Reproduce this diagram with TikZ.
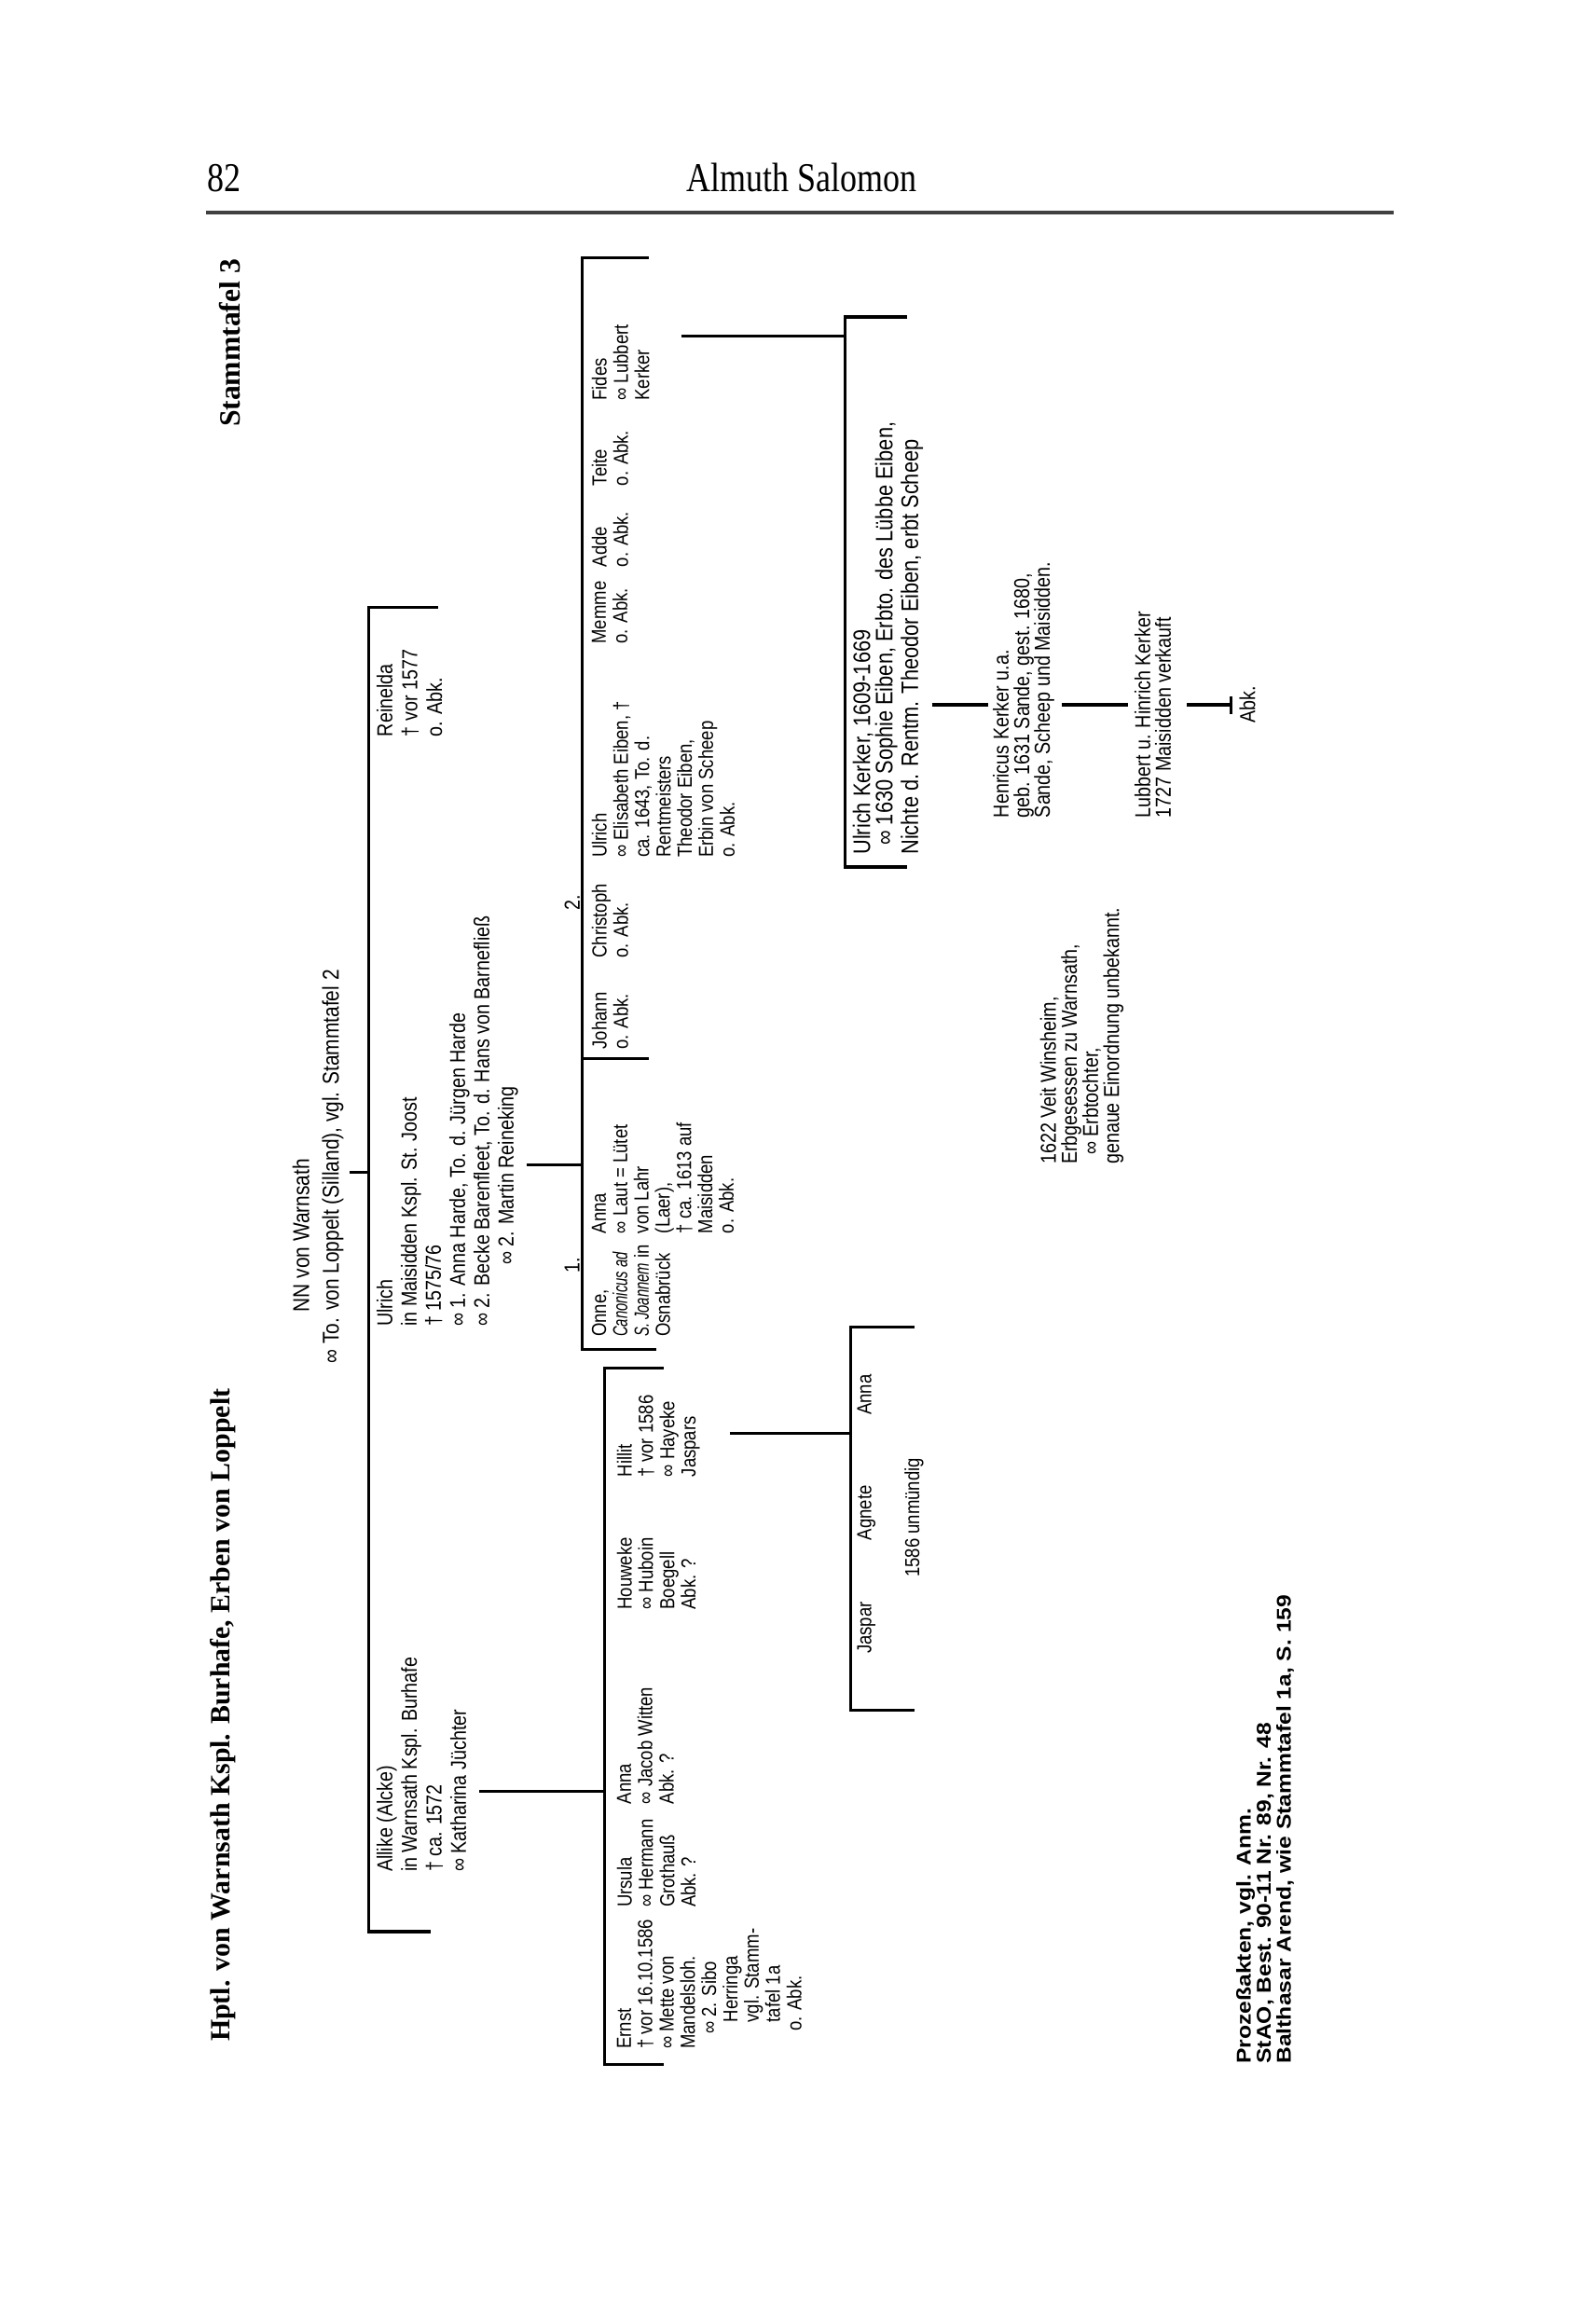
\documentclass[tikz,border=0pt]{standalone}
\usepackage{fontspec}
\setmainfont{Liberation Serif}
\newfontfamily\treefont[FakeStretch=0.85]{Liberation Sans}
\newfontfamily\srcfont[FakeStretch=1.15]{Liberation Sans}
\newfontfamily\headfont[FakeStretch=0.82]{Liberation Serif}
\newfontfamily\titlefont{Liberation Serif}
\newcommand\ind[1]{\hspace*{#1}}
\newcommand\nit[1]{\scalebox{0.8}[1]{\itshape #1}}
\tikzset{
  tx/.style={rotate=90, anchor=north west, inner sep=0pt, align=left,
    font=\treefont\fontsize{6.2pt}{#1}\selectfont},
  tx/.default=6.5pt,
  txb/.style={rotate=90, anchor=north west, inner sep=0pt, align=left,
    font=\treefont\fontsize{6.6pt}{#1}\selectfont},
  lbl/.style={rotate=90, anchor=center, inner sep=0pt, font=\treefont\fontsize{6.6pt}{6.5pt}\selectfont},
  ln/.style={line width=0.9pt},
  head/.style={anchor=base west, inner sep=0pt, font=\headfont\fontsize{12.5pt}{14pt}\selectfont},
  ttl/.style={rotate=90, anchor=base west, inner sep=0pt, font=\titlefont\bfseries\fontsize{8.5pt}{10pt}\selectfont}
}
\begin{document}
\begin{tikzpicture}[x=0.1582mm,y=-0.1582mm]
\fill[white] (0,0) rectangle (1082,1568);
\useasboundingbox (0,0) rectangle (1082,1568);
% header
\node[head] (pg) at (140,130) {82};
\node[head] (au) at (465,130) {Almuth Salomon};
\coordinate (r1) at (140,144);
\coordinate (r2) at (945,144);
\draw[line width=1pt, black!75] (r1) -- (r2);
% titles
\node[ttl] (title) at (156,1385) {Hptl. von Warnsath Kspl. Burhafe, Erben von Loppelt};
\node[ttl, font=\titlefont\bfseries\fontsize{9pt}{10pt}\selectfont] (st) at (163,290) {Stammtafel 3};
% generation 1
\node[txb=9pt, font=\treefont\fontsize{7pt}{9pt}\selectfont] (nn) at (198,925) {\ind{5.5mm}NN von Warnsath\\ ∞ To. von Loppelt (Silland), vgl. Stammtafel 2};
\coordinate (nnj) at (237,795);
\coordinate (b1j) at (250,795);
\coordinate (b1t) at (250,412);
\coordinate (b1b) at (250,1310);
\coordinate (b1tt) at (297,412);
\coordinate (b1bt) at (292,1310);
\draw[ln] (b1tt) -- (b1t) -- (b1b) -- (b1bt);
\draw[ln] (nnj) -- (b1j);
% generation 2
\node[txb=7.6pt] (rei) at (255,500) {Reinelda\\ † vor 1577\\ o. Abk.};
\node[txb=7.4pt] (ul1) at (255,900) {Ulrich\\ in Maisidden Kspl. St. Joost\\ † 1575/76\\ ∞ 1. Anna Harde, To. d. Jürgen Harde\\ ∞ 2. Becke Barenfleet, To. d. Hans von Barnefließ\\ \ind{6.6mm}∞ 2. Martin Reineking};
\node[txb=7.5pt] (all) at (255,1270) {Allike (Alcke)\\ in Warnsath Kspl. Burhafe\\ † ca. 1572\\ ∞ Katharina Jüchter};
% Ulrich children bracket
\coordinate (u1j) at (357,790);
\coordinate (b2j) at (395,790);
\coordinate (b2t) at (395,175);
\coordinate (b2b) at (395,915);
\coordinate (b2tt) at (440,175);
\coordinate (b2bt) at (445,915);
\coordinate (sepa) at (395,718);
\coordinate (sepb) at (440,718);
\draw[ln] (b2tt) -- (b2t) -- (b2b) -- (b2bt);
\draw[ln] (u1j) -- (b2j);
\draw[ln] (sepa) -- (sepb);
\node[lbl] (m1) at (388,858) {1.};
\node[lbl] (m2) at (388,612) {2.};
% Ulrich children
\node[tx] (onne) at (401,907) {Onne,\\ \nit{Canonicus ad}\\ \nit{S. Joannem} in\\ Osnabrück};
\node[tx] (anna1) at (401,837) {Anna\\ ∞ Laut = Lütet\\ von Lahr\\ (Laer),\\ † ca. 1613 auf\\ Maisidden\\ o. Abk.};
\node[tx] (joh) at (401,712) {Johann\\ o. Abk.};
\node[tx] (chr) at (401,650) {Christoph\\ o. Abk.};
\node[tx] (ul2) at (401,582) {Ulrich\\ ∞ Elisabeth Eiben, †\\ ca. 1643, To. d.\\ Rentmeisters\\ Theodor Eiben,\\ Erbin von Scheep\\ o. Abk.};
\node[tx] (mem) at (401,437) {Memme\\ o. Abk.};
\node[tx] (add) at (401,385) {Adde\\ o. Abk.};
\node[tx] (tei) at (401,330) {Teite\\ o. Abk.};
\node[tx] (fid) at (401,272) {Fides\\ ∞ Lubbert\\ Kerker};
% Fides line
\coordinate (fj) at (462,228);
\coordinate (b3j) at (573,228);
\coordinate (b3t) at (573,215);
\coordinate (b3b) at (573,588);
\coordinate (b3tt) at (615,215);
\coordinate (b3bt) at (615,588);
\draw[ln] (b3tt) -- (b3t) -- (b3b) -- (b3bt);
\draw[ln] (fj) -- (b3j);
\node[tx, font=\treefont\fontsize{7.3pt}{6.8pt}\selectfont] (uk) at (578,580) {Ulrich Kerker, 1609-1669\\ \ind{1mm}∞ 1630 Sophie Eiben, Erbto. des Lübbe Eiben,\\ Nichte d. Rentm. Theodor Eiben, erbt Scheep};
\coordinate (k1) at (632,478);
\coordinate (k2) at (670,478);
\draw[ln] (k1) -- (k2);
\node[txb=6.3pt] (hen) at (673,555) {Henricus Kerker u.a.\\ geb. 1631 Sande, gest. 1680,\\ Sande, Scheep und Maisidden.};
\coordinate (k3) at (720,478);
\coordinate (k4) at (765,478);
\draw[ln] (k3) -- (k4);
\node[txb=6.3pt] (lub) at (769,555) {Lubbert u. Hinrich Kerker\\ 1727 Maisidden verkauft};
\coordinate (k5) at (805,478);
\coordinate (k6) at (835,478);
\coordinate (k6a) at (835,472);
\coordinate (k6b) at (835,484);
\draw[ln] (k5) -- (k6);
\draw[ln] (k6a) -- (k6b);
\node[lbl] (abk) at (846,478) {Abk.};
\node[txb=6.43pt] (veit) at (705,790) {1622 Veit Winsheim,\\ Erbgesessen zu Warnsath,\\ \ind{1mm}∞ Erbtochter,\\ genaue Einordnung unbekannt.};
% Allike children
\coordinate (aj) at (325,1215);
\coordinate (b4j) at (410,1215);
\coordinate (b4t) at (410,928);
\coordinate (b4b) at (410,1400);
\coordinate (b4tt) at (450,928);
\coordinate (b4bt) at (450,1400);
\draw[ln] (b4tt) -- (b4t) -- (b4b) -- (b4bt);
\draw[ln] (aj) -- (b4j);
\node[tx] (ern) at (418,1390) {Ernst\\ † vor 16.10.1586\\ ∞ Mette von\\ Mandelsloh.\\ \ind{1.6mm}∞ 2. Sibo\\ \ind{2.85mm}Herringa\\ \ind{2.85mm}vgl. Stamm-\\ \ind{2.85mm}tafel 1a\\ \ind{1.9mm}o. Abk.};
\node[tx] (urs) at (418,1294) {Ursula\\ ∞ Hermann\\ Grothauß\\ Abk. ?};
\node[tx] (anna2) at (418,1224) {Anna\\ ∞ Jacob Witten\\ Abk. ?};
\node[tx] (hou) at (418,1092) {Houweke\\ ∞ Huboin\\ Boegell\\ Abk. ?};
\node[tx] (hil) at (418,1002) {Hillit\\ † vor 1586\\ ∞ Hayeke\\ Jaspars};
\coordinate (hj) at (495,972);
\coordinate (b5j) at (577,972);
\coordinate (b5t) at (577,900);
\coordinate (b5b) at (577,1160);
\coordinate (b5tt) at (620,900);
\coordinate (b5bt) at (620,1160);
\draw[ln] (b5tt) -- (b5t) -- (b5b) -- (b5bt);
\draw[ln] (hj) -- (b5j);
\node[tx] (jas) at (581,1122) {Jaspar};
\node[tx] (agn) at (581,1045) {Agnete};
\node[tx] (anna3) at (581,960) {Anna};
\node[tx] (unm) at (613,1070) {1586 unmündig};
% sources
\node[tx, font=\srcfont\bfseries\fontsize{6.1pt}{6.1pt}\selectfont] (src) at (838,1400) {Prozeßakten, vgl. Anm.\\ StAO, Best. 90-11 Nr. 89, Nr. 48\\ Balthasar Arend, wie Stammtafel 1a, S. 159};
\end{tikzpicture}
\end{document}
